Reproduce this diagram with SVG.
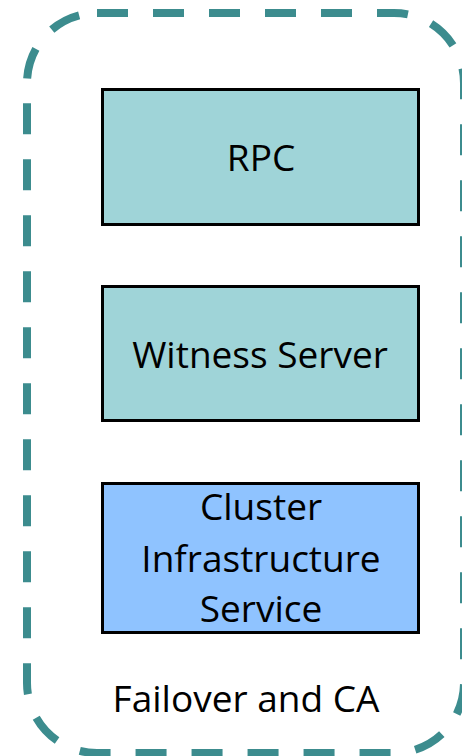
<svg xmlns="http://www.w3.org/2000/svg" width="462" height="756" viewBox="0 0 462 756">
  <style>
    .box { stroke: #000; stroke-width: 3; }
    .teal { fill: #9fd4d8; }
    .blue { fill: #8fc3ff; }
    .label { font-family: "Open Sans", "Liberation Sans", sans-serif; font-size: 37px; fill: #000; text-anchor: middle; }
    .frame { fill: none; stroke: #3c8c8e; stroke-width: 8; stroke-dasharray: 31 25; }
  </style>
  <rect width="462" height="756" fill="#fff"/>

  <!-- dashed container -->
  <g id="container">
    <rect class="frame" x="27" y="13" width="437" height="740" rx="70" ry="70"/>
    <text class="label" x="246" y="712">Failover and CA</text>
  </g>

  <g id="rpc">
    <rect class="box teal" x="102.5" y="89.5" width="316" height="135"/>
    <text class="label" x="261" y="171">RPC</text>
  </g>

  <g id="witness-server">
    <rect class="box teal" x="102.5" y="286.5" width="316" height="134"/>
    <text class="label" x="260" y="368">Witness Server</text>
  </g>

  <g id="cluster-infrastructure-service">
    <rect class="box blue" x="102.5" y="483.5" width="316" height="149"/>
    <text class="label" x="261" y="520">Cluster</text>
    <text class="label" x="261" y="572">Infrastructure</text>
    <text class="label" x="261" y="622">Service</text>
  </g>

  <g id="connectors"></g>
</svg>
